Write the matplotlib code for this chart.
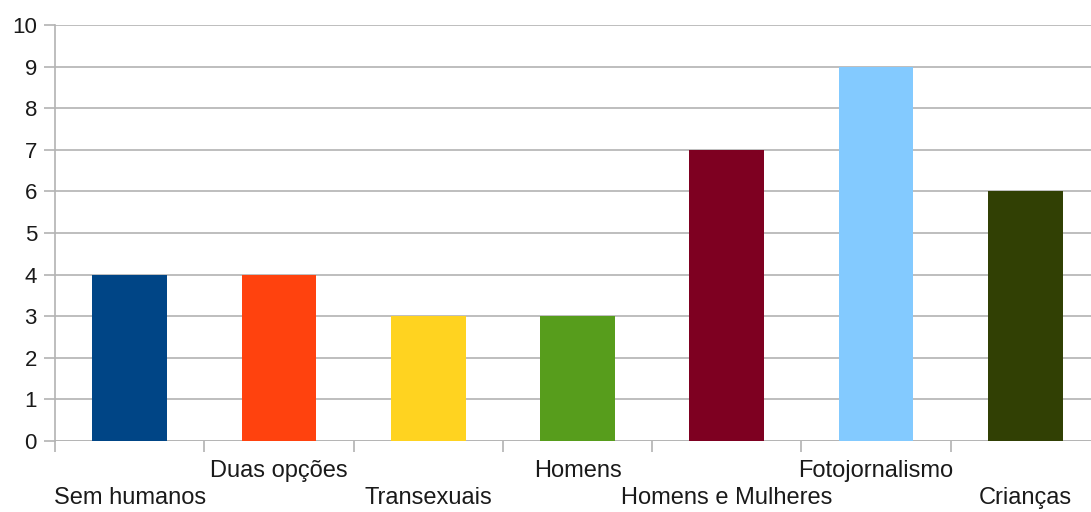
import matplotlib
matplotlib.use("Agg")
import matplotlib.pyplot as plt

categories = ["Sem humanos", "Duas opções", "Transexuais", "Homens",
              "Homens e Mulheres", "Fotojornalismo", "Crianças"]
values = [4, 4, 3, 3, 7, 9, 6]
colors = ["#004586", "#ff420e", "#ffd320", "#579d1c",
          "#7e0021", "#83caff", "#314004"]
y_ticks = list(range(0, 11))

plt.rcParams["font.family"] = ["Liberation Sans", "DejaVu Sans"]

W, H = 1091, 512
fig = plt.figure(figsize=(W / 100, H / 100), dpi=100)
left, right, top, bottom = 55, 1100, 25, 441
ax = fig.add_axes([left / W, (H - bottom) / H, (right - left) / W, (bottom - top) / H])

x = list(range(len(categories)))
ax.bar(x, values, width=0.5, color=colors, zorder=3)

ax.set_xlim(-0.5, len(categories) - 0.5)
ax.set_ylim(0, 10)
ax.set_yticks(y_ticks)
ax.set_yticklabels([str(t) for t in y_ticks], fontsize=16, color="#1a1a1a")
ax.yaxis.grid(True, color="#b3b3b3", linewidth=1.2, zorder=0)

# slot boundary ticks on the x axis, labels staggered on two rows
ax.set_xticks([i - 0.5 for i in x])
ax.set_xticklabels([])
ax.tick_params(axis="x", length=8, color="#b3b3b3", width=1.2)
ax.tick_params(axis="y", length=8, color="#b3b3b3", width=1.2, pad=5)
for i, name in enumerate(categories):
    dy = -57 if i % 2 == 0 else -30
    ax.annotate(name, xy=(i, 0), xycoords="data", xytext=(0, dy),
                textcoords="offset pixels", ha="center", va="center",
                fontsize=17, color="#1a1a1a", annotation_clip=False)

for side in ["top", "right", "bottom"]:
    ax.spines[side].set_visible(False)
ax.spines["left"].set_color("#b3b3b3")
ax.spines["left"].set_linewidth(1.2)
ax.axhline(0, color="#b3b3b3", linewidth=1.2, zorder=1)

fig.savefig("out.png", dpi=100)
